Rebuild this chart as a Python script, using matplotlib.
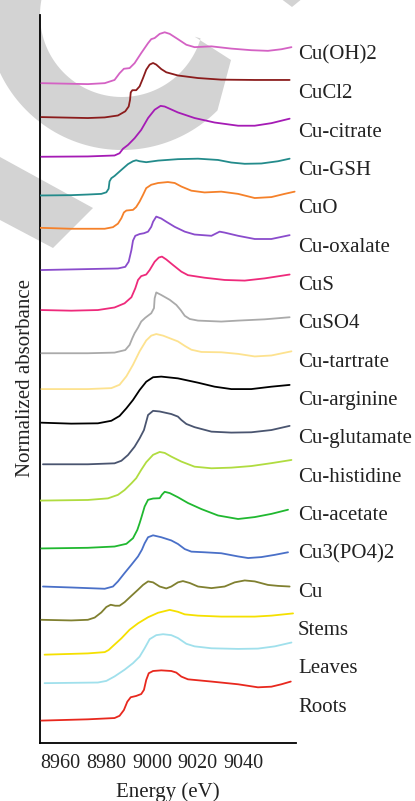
import matplotlib
matplotlib.use("Agg")
import matplotlib.pyplot as plt
import numpy as np
from matplotlib.patches import Polygon

plt.rcParams['font.family'] = ['Liberation Serif', 'DejaVu Serif']

# ---------------- data (energy in eV, normalized absorbance) ----------------
names = ["Cu(OH)2", "CuCl2", "Cu-citrate", "Cu-GSH", "CuO", "Cu-oxalate", "CuS",
         "CuSO4", "Cu-tartrate", "Cu-arginine", "Cu-glutamate", "Cu-histidine",
         "Cu-acetate", "Cu3(PO4)2", "Cu", "Stems", "Leaves", "Roots"]
colors = ["#d462c4", "#8b1c1c", "#a51bb5", "#238b8b", "#f5812a", "#8a4ccc", "#ee2a7b",
          "#aaaaaa", "#fde28f", "#000000", "#4a5570", "#b0dc40", "#20b830", "#4a70c8",
          "#808030", "#f5e000", "#a0e0ec", "#e8281e"]
offsets = [19.92, 18.86, 17.63, 16.41, 15.37, 14.08, 12.83, 11.48, 10.36, 9.31,
           8.01, 6.875, 5.39, 4.19, 3.15, 2.07, 1.17, 0.0]

cu_oh2_e = [8951.5, 8971.9, 8979.3, 8983.6, 8985.8, 8987.7, 8990.2, 8992.4, 8995.3, 8998.3, 8999.7, 9001.2,
            9003.4, 9005.6, 9007.8, 9011.4, 9015.1, 9018.7, 9026.1, 9034.8, 9043.6, 9050.9, 9056.8, 9061.2]
cu_oh2_a = [0.00, -0.03, 0.00, 0.10, 0.31, 0.45, 0.47, 0.625, 0.94, 1.25, 1.375, 1.41,
            1.54, 1.59, 1.54, 1.375, 1.20, 1.125, 1.15, 1.08, 1.03, 1.01, 1.06, 1.125]

cucl2_e = [8951.5, 8971.9, 8979.3, 8985.1, 8988.3, 8989.8, 8990.4, 8990.7, 8991.4, 8993.1, 8994.6, 8996.1,
           8997.5, 8999.0, 9000.5, 9001.9, 9004.1, 9006.3, 9011.4, 9020.2, 9030.4, 9045.1, 9060.4]
cucl2_a = [0.00, -0.03, -0.01, 0.05, 0.18, 0.33, 0.54, 0.77, 0.84, 0.84, 0.96, 1.22,
           1.48, 1.64, 1.69, 1.64, 1.50, 1.40, 1.30, 1.22, 1.17, 1.16, 1.16]

citrate_e = [8951.5, 8971.9, 8983.6, 8985.8, 8987.3, 8989.5, 8992.4, 8995.3, 8998.3, 9001.2, 9003.8,
             9005.6, 9011.4, 9018.7, 9027.5, 9037.8, 9045.1, 9052.4, 9060.4]
citrate_a = [-0.01, 0.00, 0.03, 0.10, 0.24, 0.36, 0.57, 0.83, 1.20, 1.46, 1.58,
             1.56, 1.375, 1.20, 1.06, 0.96, 0.96, 1.04, 1.18]

gsh_e = [8950.7, 8964.6, 8971.9, 8977.8, 8980.0, 8981.0, 8981.4, 8982.2, 8983.6, 8986.6, 8989.5, 8991.7,
         8993.1, 8994.6, 8997.5, 9002.7, 9011.4, 9020.2, 9029.0, 9034.8, 9040.7, 9048.0, 9055.3, 9060.4]
gsh_a = [0.00, 0.01, 0.03, 0.05, 0.10, 0.21, 0.44, 0.54, 0.61, 0.80, 0.98, 1.07,
         1.10, 1.07, 1.04, 1.09, 1.135, 1.15, 1.11, 1.03, 0.99, 1.00, 1.07, 1.15]

cuo_e = [8950.7, 8964.6, 8979.3, 8982.9, 8985.1, 8986.6, 8987.7, 8988.8, 8991.7, 8993.1, 8994.6, 8996.1, 8997.5,
         8999.7, 9002.7, 9007.0, 9010.0, 9012.9, 9017.3, 9023.1, 9030.4, 9037.8, 9045.1, 9052.4, 9058.2, 9062.6]
cuo_a = [0.03, 0.00, 0.00, 0.05, 0.16, 0.33, 0.51, 0.57, 0.59, 0.68, 0.85, 1.06, 1.27,
         1.375, 1.43, 1.46, 1.43, 1.32, 1.19, 1.135, 1.16, 1.09, 0.96, 0.99, 1.09, 1.16]

oxalate_e = [8951.5, 8971.9, 8985.1, 8988.3, 8989.8, 8991.0, 8991.7, 8992.7, 8994.6, 8996.5, 8998.3, 8999.7, 9000.5,
             9001.9, 9004.1, 9006.3, 9010.0, 9014.4, 9018.7, 9026.1, 9029.7, 9031.9, 9037.8, 9045.1, 9052.4, 9060.4]
oxalate_a = [0.00, 0.03, 0.05, 0.10, 0.26, 0.625, 0.92, 1.07, 1.125, 1.15, 1.20, 1.35, 1.51,
             1.67, 1.61, 1.51, 1.35, 1.20, 1.11, 1.07, 1.20, 1.17, 1.07, 0.97, 0.97, 1.09]

cus_e = [8951.5, 8964.6, 8976.3, 8983.6, 8988.0, 8991.0, 8992.7, 8993.9, 8995.3, 8997.5, 8999.0, 9001.2,
         9003.0, 9004.4, 9006.3, 9009.2, 9012.9, 9015.8, 9023.1, 9031.9, 9040.7, 9049.5, 9060.4]
cus_a = [0.00, -0.02, 0.00, 0.08, 0.21, 0.40, 0.68, 0.94, 1.06, 1.11, 1.25, 1.51,
         1.64, 1.67, 1.58, 1.41, 1.20, 1.09, 1.01, 0.94, 0.92, 0.99, 1.11]

cuso4_e = [8951.5, 8971.9, 8983.6, 8988.3, 8990.2, 8991.4, 8992.4, 8993.9, 8995.3, 8997.1, 8999.7, 9000.9, 9001.2,
           9001.9, 9004.1, 9007.8, 9010.7, 9012.6, 9014.4, 9016.6, 9020.2, 9030.4, 9037.8, 9049.5, 9060.4]
cuso4_a = [0.00, 0.00, 0.02, 0.10, 0.26, 0.47, 0.625, 0.80, 0.99, 1.11, 1.25, 1.41, 1.72,
           1.90, 1.82, 1.67, 1.51, 1.35, 1.17, 1.07, 1.02, 0.99, 1.02, 1.06, 1.125]

tartrate_e = [8951.5, 8971.9, 8982.2, 8985.8, 8988.8, 8991.7, 8994.6, 8997.5, 8999.7, 9001.9, 9004.9,
              9008.5, 9011.4, 9014.4, 9017.3, 9021.7, 9030.4, 9037.8, 9045.1, 9052.4, 9061.2]
tartrate_a = [0.00, 0.00, 0.03, 0.135, 0.40, 0.76, 1.18, 1.52, 1.67, 1.72, 1.67,
              1.57, 1.49, 1.35, 1.23, 1.16, 1.15, 1.10, 1.02, 1.05, 1.18]

arginine_e = [8951.5, 8964.6, 8976.3, 8982.2, 8985.8, 8988.8, 8991.7, 8994.6, 8997.5, 9000.5, 9004.1,
              9011.4, 9020.2, 9027.5, 9034.8, 9043.6, 9052.4, 9060.4]
arginine_a = [0.00, -0.03, -0.02, 0.06, 0.21, 0.45, 0.71, 1.02, 1.28, 1.42, 1.44,
              1.385, 1.25, 1.125, 1.05, 1.05, 1.125, 1.18]

glutamate_e = [8952.2, 8971.9, 8983.6, 8986.6, 8989.5, 8992.4, 8994.6, 8996.5, 8997.5, 8998.3, 9000.5,
               9003.4, 9008.5, 9011.4, 9012.9, 9015.1, 9018.7, 9026.1, 9034.8, 9043.6, 9052.4, 9060.4]
glutamate_a = [0.00, 0.00, 0.03, 0.11, 0.29, 0.55, 0.81, 1.07, 1.33, 1.54, 1.67,
               1.65, 1.57, 1.49, 1.385, 1.26, 1.16, 1.02, 0.99, 1.00, 1.07, 1.20]

histidine_e = [8950.7, 8971.9, 8980.7, 8985.1, 8988.0, 8991.0, 8993.1, 8995.3, 8997.5, 9000.5, 9003.4,
               9005.6, 9008.5, 9012.9, 9018.7, 9026.1, 9034.8, 9043.6, 9052.4, 9061.2]
histidine_a = [0.00, 0.02, 0.07, 0.18, 0.33, 0.54, 0.70, 0.96, 1.20, 1.43, 1.52,
               1.49, 1.375, 1.22, 1.06, 1.01, 1.03, 1.08, 1.17, 1.27]

acetate_e = [8951.5, 8971.9, 8983.6, 8988.8, 8991.7, 8993.6, 8994.6, 8995.3, 8996.8, 8998.3, 9000.5, 9003.4,
             9004.4, 9005.6, 9007.8, 9011.4, 9015.8, 9021.7, 9029.0, 9037.8, 9045.1, 9052.4, 9059.7]
acetate_a = [-0.01, 0.01, 0.05, 0.135, 0.31, 0.57, 0.78, 0.94, 1.30, 1.51, 1.55, 1.56,
             1.67, 1.76, 1.72, 1.59, 1.41, 1.22, 1.02, 0.91, 0.97, 1.07, 1.20]

po4_e = [8952.2, 8964.6, 8979.3, 8982.9, 8985.1, 8988.0, 8991.0, 8993.9, 8995.6, 8996.8, 8998.3, 9000.5,
         9004.1, 9008.5, 9011.4, 9014.4, 9017.3, 9023.1, 9030.4, 9037.8, 9042.2, 9048.0, 9053.9, 9059.7]
po4_a = [0.00, -0.03, -0.07, 0.00, 0.16, 0.42, 0.68, 0.94, 1.15, 1.35, 1.54, 1.60,
         1.54, 1.44, 1.33, 1.17, 1.09, 1.07, 1.04, 0.94, 0.89, 0.92, 0.99, 1.07]

cu_e = [8951.5, 8964.6, 8971.9, 8974.9, 8977.8, 8980.0, 8981.9, 8983.9, 8985.8, 8988.0, 8991.0, 8993.9,
        8996.1, 8998.3, 9000.5, 9003.4, 9006.3, 9008.5, 9011.4, 9013.6, 9016.6, 9020.2, 9026.1, 9031.9,
        9036.3, 9040.7, 9045.1, 9050.9, 9055.3, 9060.4]
cu_a = [0.00, -0.02, 0.00, 0.07, 0.23, 0.40, 0.47, 0.44, 0.44, 0.55, 0.75, 0.94,
        1.09, 1.20, 1.17, 1.04, 0.98, 1.04, 1.17, 1.21, 1.15, 1.04, 0.99, 1.04,
        1.17, 1.23, 1.20, 1.09, 1.06, 1.04]

stems_e = [8952.9, 8971.9, 8979.3, 8981.0, 8982.9, 8986.6, 8990.2, 8993.9, 8998.3, 9002.7, 9007.8,
           9011.4, 9014.4, 9020.2, 9030.4, 9045.1, 9052.4, 9061.9]
stems_a = [-0.01, 0.03, 0.07, 0.135, 0.26, 0.50, 0.77, 0.97, 1.16, 1.30, 1.39,
           1.33, 1.25, 1.21, 1.18, 1.18, 1.21, 1.28]

leaves_e = [8952.9, 8976.3, 8980.0, 8983.6, 8988.0, 8991.7, 8994.6, 8996.8, 8999.0, 9001.9, 9004.9,
            9008.5, 9011.4, 9015.1, 9018.7, 9026.1, 9037.8, 9046.5, 9053.9, 9061.2]
leaves_a = [0.00, 0.02, 0.07, 0.21, 0.42, 0.625, 0.83, 1.09, 1.375, 1.50, 1.53,
            1.50, 1.41, 1.23, 1.15, 1.09, 1.07, 1.08, 1.15, 1.27]

roots_e = [8951.5, 8971.9, 8983.6, 8985.8, 8987.7, 8989.2, 8990.7, 8993.1, 8995.3, 8996.5, 8997.5, 8998.6,
           9000.5, 9004.1, 9008.5, 9010.7, 9012.9, 9015.8, 9026.1, 9037.8, 9046.5, 9052.4, 9056.8, 9060.9]
roots_a = [0.00, 0.04, 0.08, 0.15, 0.33, 0.59, 0.73, 0.77, 0.83, 0.96, 1.27, 1.48,
           1.55, 1.57, 1.55, 1.50, 1.375, 1.29, 1.22, 1.135, 1.04, 1.06, 1.135, 1.22]

x_ticks = [8960, 8980, 9000, 9020, 9040]

spectra = [(cu_oh2_e, cu_oh2_a), (cucl2_e, cucl2_a), (citrate_e, citrate_a), (gsh_e, gsh_a),
           (cuo_e, cuo_a), (oxalate_e, oxalate_a), (cus_e, cus_a), (cuso4_e, cuso4_a),
           (tartrate_e, tartrate_a), (arginine_e, arginine_a), (glutamate_e, glutamate_a),
           (histidine_e, histidine_a), (acetate_e, acetate_a), (po4_e, po4_a), (cu_e, cu_a),
           (stems_e, stems_a), (leaves_e, leaves_a), (roots_e, roots_a)]

# ---------------- figure ----------------
W, H = 415, 801
fig = plt.figure(figsize=(W / 100, H / 100), dpi=100)

def fpt(x, y):
    return (x / W, 1 - y / H)

# watermark (decorative grey shapes)
wm = '#d3d3d3'
cx, cy = 122, 15
phi_out = np.radians(np.linspace(200, 45, 80))
phi_in = np.radians(np.linspace(16.6, 200, 80))
outer = [(cx + 135 * np.cos(p), cy + 135 * np.sin(p)) for p in phi_out]
inner = [(cx + 82 * np.cos(p), cy + 82 * np.sin(p)) for p in phi_in]
c_shape = outer + [(231, 60), (194.7, 36.7)] + inner
fig.add_artist(Polygon([fpt(*p) for p in c_shape], closed=True, facecolor=wm,
                       edgecolor='none', transform=fig.transFigure, zorder=-5))
bar = [(-10, 151.5), (93, 208), (53, 248), (-10, 214.7)]
fig.add_artist(Polygon([fpt(*p) for p in bar], closed=True, facecolor=wm,
                       edgecolor='none', transform=fig.transFigure, zorder=-5))
tip = [(280, -2), (303, -2), (292, 7)]
fig.add_artist(Polygon([fpt(*p) for p in tip], closed=True, facecolor=wm,
                       edgecolor='none', transform=fig.transFigure, zorder=-5))

ax = fig.add_axes([40 / W, 1 - 743 / H, (296 - 40) / W, (743 - 15) / H])
ax.set_facecolor('none')

for (e, a), off, col in zip(spectra, offsets, colors):
    ax.plot(e, np.asarray(a) + off, color=col, lw=1.3, solid_joinstyle='round',
            solid_capstyle='round', zorder=3)

ax.set_xlim(8950.9, 9063.2)
ax.set_ylim(-0.70, 22.05)
ax.set_yticks([])
ax.set_xticks(x_ticks)
ax.tick_params(axis='x', length=0, pad=8, labelsize=14.5, labelcolor='#222222')
for s in ['top', 'right']:
    ax.spines[s].set_visible(False)
for s in ['left', 'bottom']:
    ax.spines[s].set_linewidth(1.3)
    ax.spines[s].set_color('black')

label_top, label_bottom = 0.9383, 0.0430
step = (label_top - label_bottom) / (len(names) - 1)
for k, n in enumerate(names):
    ax.text(1.008, label_top - k * step, n, transform=ax.transAxes, fontsize=15,
            ha='left', va='baseline', clip_on=False, color='#222222')

fig.text(168 / W, 1 - 796.7 / H, "Energy (eV)", ha='center', va='baseline', fontsize=15,
         color='#222222')
fig.text(30 / W, 1 - 378.5 / H, "Normalized absorbance", rotation=90, rotation_mode='anchor',
         ha='center', va='baseline', fontsize=15, color='#222222')

fig.savefig("out.png", dpi=100)
